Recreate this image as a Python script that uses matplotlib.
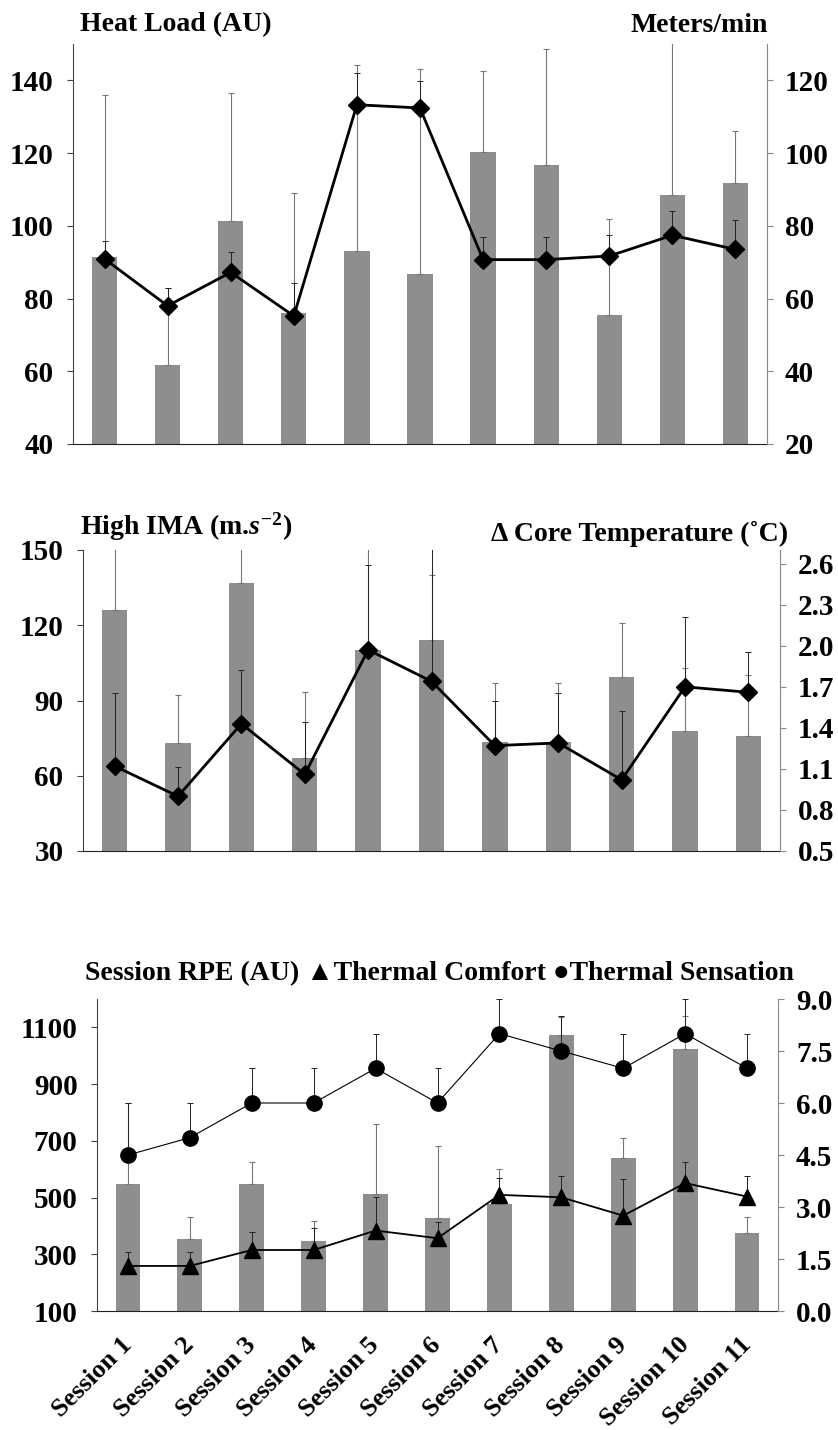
import matplotlib
matplotlib.use('Agg')
import matplotlib.pyplot as plt
import matplotlib.transforms as mtransforms
import numpy as np

# sessions
sessions = ['Session %d' % i for i in range(1, 12)]

# panel 1: heat load (bars, left) and meters/min (diamonds, right)
heat_load = [91.4, 61.7, 101.3, 75.9, 93.0, 86.7, 120.3, 116.8, 75.6, 108.6, 111.9]
heat_load_sd = [44.6, 21.2, 35.3, 33.2, 51.1, 56.5, 22.3, 31.9, 26.4, 45.0, 14.2]
meters_min = [70.9, 58.0, 67.2, 55.2, 113.3, 112.4, 70.7, 70.7, 71.7, 77.4, 73.5]
meters_min_sd = [4.9, 4.9, 5.5, 9.2, 8.8, 7.5, 6.2, 6.2, 5.7, 6.7, 8.0]

# panel 2: high IMA (bars, left) and delta core temperature (diamonds, right)
high_ima = [126.0, 72.9, 136.8, 67.2, 110.2, 114.3, 73.4, 73.4, 99.5, 77.9, 76.0]
high_ima_sd = [30.0, 19.3, 20.0, 26.0, 45.0, 25.7, 23.6, 23.6, 21.5, 24.9, 24.3]
core_temp = [1.12, 0.90, 1.43, 1.06, 1.97, 1.74, 1.27, 1.29, 1.02, 1.70, 1.66]
core_temp_sd = [0.535, 0.215, 0.39, 0.38, 0.62, 1.0, 0.33, 0.364, 0.50, 0.51, 0.298]

# panel 3: session RPE (bars, left), thermal comfort / sensation (right)
session_rpe = [547, 353, 547, 347, 514, 429, 476, 1072, 641, 1023, 374]
session_rpe_sd = [288, 77, 79, 70, 247, 251, 124, 66, 68, 117, 58]
thermal_comfort = [1.30, 1.30, 1.76, 1.76, 2.32, 2.10, 3.35, 3.28, 2.75, 3.69, 3.30]
thermal_comfort_sd = [0.39, 0.39, 0.53, 0.62, 0.98, 0.48, 0.50, 0.60, 1.05, 0.60, 0.60]
thermal_sensation = [4.5, 5.0, 6.0, 6.0, 7.0, 6.0, 8.0, 7.5, 7.0, 8.0, 7.0]
thermal_sensation_sd = [1.5, 1.0, 1.0, 1.0, 1.0, 1.0, 1.0, 1.0, 1.0, 1.0, 1.0]

plt.rcParams['font.family'] = ['Liberation Serif', 'DejaVu Sans']
plt.rcParams['font.weight'] = 'bold'
plt.rcParams['mathtext.fontset'] = 'custom'
plt.rcParams['mathtext.rm'] = 'Liberation Serif:bold'
plt.rcParams['mathtext.it'] = 'Liberation Serif:bold:italic'
plt.rcParams['mathtext.bf'] = 'Liberation Serif:bold'

BAR_COLOR = '#8E8E8E'
TICK_FS = 21
TITLE_FS = 20
W, H = 838, 1430

fig = plt.figure(figsize=(W / 100, H / 100), dpi=100)


def make_axes(px_left, px_right, px_top, px_bottom):
    rect = [px_left / W, 1 - px_bottom / H, (px_right - px_left) / W, (px_bottom - px_top) / H]
    ax = fig.add_axes(rect)
    ax2 = ax.twinx()
    for a in (ax, ax2):
        a.spines['top'].set_visible(False)
        a.set_xlim(-0.5, len(sessions) - 0.5)
        a.patch.set_visible(False)
    ax.spines['right'].set_visible(False)
    ax2.spines['left'].set_visible(False)
    ax2.spines['bottom'].set_visible(False)
    ax.spines['left'].set_color('#444444')
    ax.spines['bottom'].set_color('#222222')
    ax2.spines['right'].set_color('#888888')
    ax.tick_params(axis='y', direction='out', length=4, width=0.8, color='#444444',
                   labelsize=TICK_FS, pad=10)
    ax2.tick_params(axis='y', direction='out', length=4, width=0.8, color='#888888',
                    labelsize=TICK_FS, pad=9)
    ax.tick_params(axis='x', length=0)
    ax.set_xticks(range(len(sessions)))
    ax.set_xticklabels([])
    return ax, ax2


def draw_bars(ax, vals, sd):
    x = np.arange(len(vals))
    ax.bar(x, vals, width=0.4, color=BAR_COLOR, zorder=2)
    ax.errorbar(x, vals, yerr=[np.zeros(len(sd)), sd], fmt='none', ecolor='#777777',
                elinewidth=0.8, capsize=2, capthick=0.8, zorder=3)


def draw_line(ax, vals, sd, marker, ms, lw):
    x = np.arange(len(vals))
    ax.errorbar(x, vals, yerr=[np.zeros(len(sd)), sd], fmt='none', ecolor='#222222',
                elinewidth=0.7, capsize=2, capthick=0.7, zorder=3)
    ax.plot(x, vals, color='black', lw=lw, marker=marker, ms=ms, zorder=4)


# ---- panel 1
ax1, ax1r = make_axes(73, 767, 44, 444)
draw_bars(ax1, heat_load, heat_load_sd)
draw_line(ax1r, meters_min, meters_min_sd, 'D', 9, 2)
ax1.set_ylim(40, 150)
ax1.set_yticks(range(40, 141, 20))
ax1r.set_ylim(20, 130)
ax1r.set_yticks(range(20, 121, 20))
fig.text(80 / W, 1 - 31 / H, 'Heat Load (AU)', fontsize=TITLE_FS, fontweight='bold',
         ha='left', va='baseline')
fig.text(768 / W, 1 - 32 / H, 'Meters/min', fontsize=TITLE_FS, fontweight='bold',
         ha='right', va='baseline')

# ---- panel 2
ax2, ax2r = make_axes(83, 780, 550, 851)
draw_bars(ax2, high_ima, high_ima_sd)
draw_line(ax2r, core_temp, core_temp_sd, 'D', 9, 2)
ax2.set_ylim(30, 150)
ax2.set_yticks(range(30, 151, 30))
ax2r.set_ylim(0.5, 2.7)
ax2r.set_yticks(np.arange(0.5, 2.61, 0.3))
ax2r.set_yticklabels(['%.1f' % v for v in np.arange(0.5, 2.61, 0.3)])
fig.text(80 / W, 1 - 535 / H, r'High IMA (m.$\mathit{s}^{\mathrm{-2}}$)', fontsize=TITLE_FS,
         fontweight='bold', ha='left', va='baseline')
fig.text(788 / W, 1 - 541 / H, '\u0394 Core Temperature (\u02daC)', fontsize=TITLE_FS,
         fontweight='bold', ha='right', va='baseline')

# ---- panel 3
ax3, ax3r = make_axes(97, 778, 999, 1311)
draw_bars(ax3, session_rpe, session_rpe_sd)
draw_line(ax3r, thermal_comfort, thermal_comfort_sd, '^', 12, 1.3)
draw_line(ax3r, thermal_sensation, thermal_sensation_sd, 'o', 11, 0.8)
ax3.set_ylim(100, 1200)
ax3.set_yticks(range(100, 1101, 200))
ax3r.set_ylim(0, 9)
ax3r.set_yticks(np.arange(0, 9.01, 1.5))
ax3r.set_yticklabels(['%.1f' % v for v in np.arange(0, 9.01, 1.5)])
ax3.set_xticklabels(sessions, rotation=45, ha='right', va='top', rotation_mode='anchor',
                    fontsize=19, fontweight='bold')
ax3.tick_params(axis='x', pad=16)
shift = mtransforms.ScaledTranslation(-8 / 100, 0, fig.dpi_scale_trans)
for lbl in ax3.get_xticklabels():
    lbl.set_transform(lbl.get_transform() + shift)
fig.text(85 / W, 1 - 980 / H, 'Session RPE (AU) \u25b2Thermal Comfort \u25cfThermal Sensation',
         fontsize=TITLE_FS, fontweight='bold', ha='left', va='baseline')

fig.savefig('out.png', dpi=100)
